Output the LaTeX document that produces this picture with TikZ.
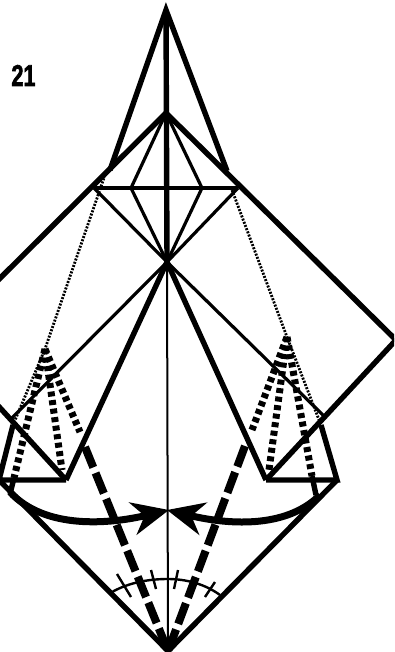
\documentclass[tikz,border=0pt]{standalone}
\usepackage{fontspec}
\setmainfont{Liberation Sans}
\newfontfamily\stepfont[UprightFont=* Bold,FakeBold=2.4]{Liberation Sans}
\usetikzlibrary{arrows.meta}

\begin{document}
\begin{tikzpicture}[
    x=1pt,
    y=-1pt,
    >={Stealth[length=37pt,width=33pt,inset=12pt]},
    line join=miter,
    heavy/.style={line width=5.4pt},
    medium/.style={line width=3.2pt},
    fine/.style={line width=2pt},
    pleat/.style={line width=7pt, dash pattern=on 5pt off 3.6pt},
    hidden/.style={line width=2.8pt, dash pattern=on 2pt off 1.4pt},
    valley/.style={line width=8pt, dash pattern=on 22pt off 6pt},
    swing/.style={->, line width=7pt},
    tick/.style={line width=2.4pt}
]
\clip (0,0) rectangle (394,652);

\coordinate (tip) at (166,10);
\coordinate (top) at (166,113);
\coordinate (mid) at (167,262);
\coordinate (sqright) at (396,340);
\coordinate (sqleft) at (-62,340);
\coordinate (shl) at (110,170);
\coordinate (shr) at (227,171);
\coordinate (wl) at (94,188);
\coordinate (wr) at (238,188);
\coordinate (il) at (131,188);
\coordinate (ir) at (202,188);
\coordinate (kl) at (66,480);
\coordinate (kr) at (266,480);
\coordinate (el) at (-1,480);
\coordinate (er) at (337,480);
\coordinate (sl) at (13,425);
\coordinate (sr) at (321,425);
\coordinate (bot) at (168,651);
\coordinate (al) at (45,349);
\coordinate (ar) at (287,337);
\coordinate (hl) at (105,175);
\coordinate (hr) at (232,190);
\coordinate (fl) at (80,432);
\coordinate (fr) at (252,430);
\coordinate (vl) at (85,447);
\coordinate (vr) at (245,446);
\coordinate (pl) at (14,478);
\coordinate (pr) at (312,476);
\coordinate (stubl) at (10,494);
\coordinate (stubr) at (316,495);

% outer folds
\draw[heavy] (shl) -- (tip) -- (shr);
\draw[heavy] (tip) -- (mid);
\draw[heavy] (sqleft) -- (top) -- (sqright);
\draw[heavy] (sqright) -- (kr);
\draw[heavy] (sqleft) -- (kl);
\draw[heavy] (kl) -- (mid) -- (kr);
\draw[heavy] (sl) -- (el) -- (kl);
\draw[heavy] (sr) -- (er) -- (kr);
\draw[heavy] (el) -- (bot) -- (er);

% inner diamond
\draw[medium] (wl) -- (wr);
\draw[medium] (wl) -- (mid) -- (wr);
\draw[medium] (top) -- (il) -- (mid) -- (ir) -- cycle;
\draw[medium] (mid) -- (10,420);
\draw[medium] (mid) -- (326,418);
\draw[fine] (mid) -- (bot);

% hidden edges
\draw[hidden] (hl) -- (al) -- (sl);
\draw[hidden] (hr) -- (ar) -- (sr);
\draw[pleat] (al) -- (pl);
\draw[pleat] (al) -- (62,470);
\draw[pleat] (al) -- (fl);
\draw[pleat] (ar) -- (269,470);
\draw[pleat] (ar) -- (pr);
\draw[pleat] (ar) -- (fr);
\draw[heavy] (pl) -- (stubl);
\draw[heavy] (pr) -- (stubr);
\draw[valley] (vl) -- (bot);
\draw[valley] (vr) -- (bot);

% swing arrows
\coordinate (meetl) at (169,510);
\coordinate (meetr) at (167,510);
\draw[swing] (10,492) .. controls (45,530) and (110,524) .. (meetl);
\draw[swing] (320,495) .. controls (285,530) and (225,524) .. (meetr);

% angle marks
\draw[tick] (112,592) .. controls (130,582) and (150,579) .. (168,579) .. controls (186,579) and (205,584) .. (220,595);
\draw[tick] (117,574) -- (131,597);
\draw[tick] (151,570) -- (156,589);
\draw[tick] (178,570) -- (174,589);
\draw[tick] (215,582) -- (205,597);

\node[font=\stepfont\fontsize{30}{30}\selectfont, xscale=0.72, inner sep=0pt] (step21) at (23.5,75.5) {21};
\end{tikzpicture}
\end{document}
